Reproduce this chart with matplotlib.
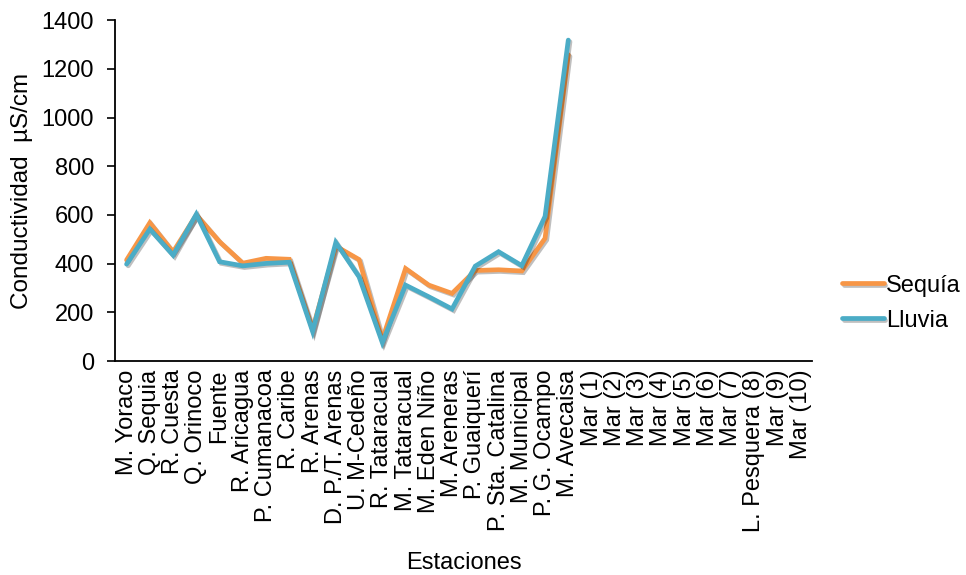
import numpy as np
import matplotlib
matplotlib.use("Agg")
import matplotlib.pyplot as plt
import matplotlib.patheffects as pe

plt.rcParams['font.family'] = ['Liberation Sans', 'DejaVu Sans']

estaciones = ["M. Yoraco", "Q. Sequia", "R. Cuesta", "Q. Orinoco", "Fuente",
              "R. Aricagua", "P. Cumanacoa", "R. Caribe", "R. Arenas",
              "D. P./T. Arenas", "U. M-Cedeño", "R. Tataracual", "M. Tataracual",
              "M. Eden Niño", "M. Areneras", "P. Guaiquerí", "P. Sta. Catalina",
              "M. Municipal", "P. G. Ocampo", "M. Avecaisa",
              "Mar (1)", "Mar (2)", "Mar (3)", "Mar (4)", "Mar (5)", "Mar (6)",
              "Mar (7)", "L. Pesquera (8)", "Mar (9)", "Mar (10)"]

# conductividad medida en las 20 estaciones de tierra (las de mar sin dato)
sequia = [415, 568, 448, 600, 490, 402, 422, 418, 130, 472,
          417, 88, 380, 312, 278, 372, 375, 370, 504, 1258]
lluvia = [398, 542, 435, 603, 408, 391, 401, 406, 122, 487,
          346, 76, 312, 264, 214, 390, 449, 392, 594, 1318]

naranja = "#F79646"
azul = "#4BACC6"
fs = 17

fig = plt.figure(figsize=(9.66, 5.75), dpi=100)
ax = fig.add_axes([0.119, 0.372, 0.722, 0.593])

sombra = [pe.SimpleLineShadow(offset=(1.2, -1.2), alpha=0.25, shadow_color="k"), pe.Normal()]

x = np.arange(len(sequia))
ax.plot(x, sequia, color=naranja, lw=3.4, solid_joinstyle="miter",
        solid_capstyle="round", label="Sequía", path_effects=sombra)
ax.plot(x, lluvia, color=azul, lw=3.4, solid_joinstyle="miter",
        solid_capstyle="round", label="Lluvia", path_effects=sombra)

ax.set_xlim(-0.5, len(estaciones) - 0.5)
ax.set_ylim(0, 1400)
ax.set_yticks(np.arange(0, 1401, 200))
ax.set_xticks(np.arange(len(estaciones)))
ax.set_xticklabels(estaciones, rotation=90)
ax.tick_params(axis="x", length=0, labelsize=fs, pad=6)
ax.tick_params(axis="y", direction="out", length=6, width=1.2, labelsize=fs, pad=9)

for s in ["top", "right"]:
    ax.spines[s].set_visible(False)
for s in ["left", "bottom"]:
    ax.spines[s].set_linewidth(1.3)

ax.set_ylabel("Conductividad  µS/cm", fontsize=17.5)
ax.yaxis.set_label_coords(-0.118, 0.5)
ax.set_xlabel("Estaciones", fontsize=fs)
ax.xaxis.set_label_coords(0.5, -0.56)

ax.legend(loc="center left", bbox_to_anchor=(0.872, 0.473),
          bbox_transform=fig.transFigure, frameon=False, borderpad=0,
          borderaxespad=0, fontsize=fs, handlelength=1.75,
          handletextpad=0.1, labelspacing=0.55)

fig.savefig("out.png", dpi=100)
